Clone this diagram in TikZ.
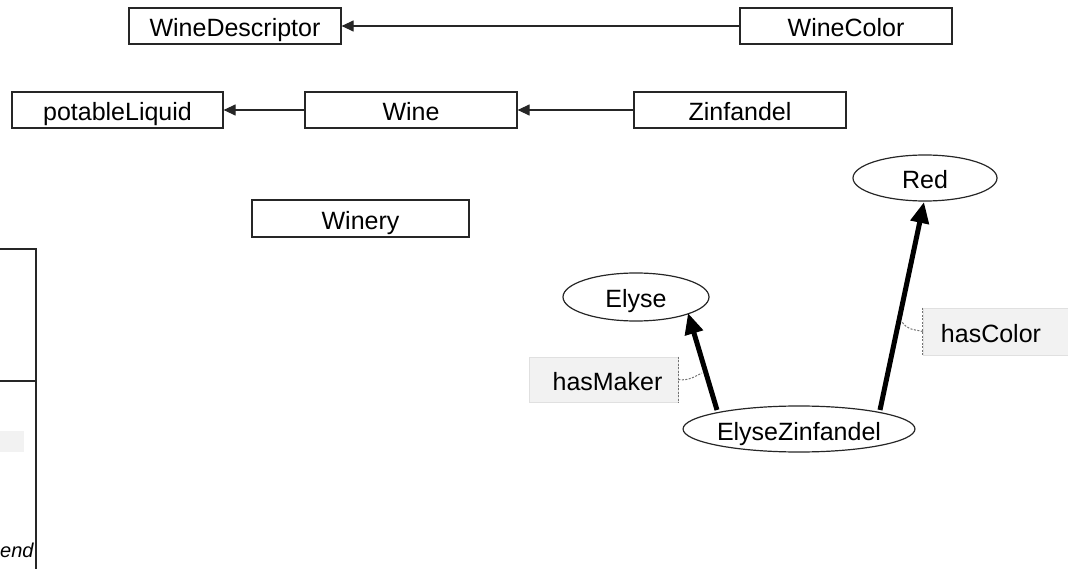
\documentclass[tikz,border=0pt]{standalone}
\usepackage{fontspec}
\setmainfont{Liberation Sans}
\usetikzlibrary{arrows.meta,calc,shapes.geometric}
\begin{document}
\begin{tikzpicture}[x=1pt,y=-1pt,
  every node/.style={font=\fontsize{25}{29}\selectfont, text=black, text height=22pt, text depth=0pt},
  classbox/.style={draw=black!85, line width=1.2pt, rectangle, minimum height=36pt, inner sep=0pt},
  indiv/.style={draw=black!85, line width=1.2pt, ellipse, inner sep=0pt},
  subarrow/.style={draw=black!85, line width=1.2pt, -{Triangle[length=12pt,width=11pt]}},
  proparrow/.style={draw=black, line width=5pt, -{Triangle[length=21pt,width=18pt]}},
  proplabel/.style={rectangle, fill=black!5, draw=black!12, line width=0.6pt, inner sep=0pt},
  leader/.style={draw=black!55, dashed, dash pattern=on 2pt off 1.5pt, line width=1pt}
]
\useasboundingbox (0,0) rectangle (1068,569);
\clip (0,0) rectangle (1068,569);

% class boxes
\node[classbox, minimum width=212pt] (wd) at (235,26) {WineDescriptor};
\node[classbox, minimum width=212pt] (wc) at (846,26) {WineColor};
\node[classbox, minimum width=211pt] (pl) at (117.5,110) {potableLiquid};
\node[classbox, minimum width=212pt] (wine) at (411,110) {Wine};
\node[classbox, minimum width=212pt] (zin) at (740,110) {Zinfandel};
\node[classbox, minimum width=217pt, minimum height=37pt] (winery) at (360.5,218.5) {Winery};

\draw[subarrow] (wc) -- (wd);
\draw[subarrow] (wine) -- (pl);
\draw[subarrow] (zin) -- (wine);

% individuals
\node[indiv, minimum width=144pt, minimum height=46pt] (red) at (925,178) {Red};
\node[indiv, minimum width=146pt, minimum height=48pt] (elyse) at (636,297) {Elyse};
\node[indiv, minimum width=230pt, minimum height=46pt] (ez) at (799,429) {ElyseZinfandel};

\coordinate (t1) at (717,410);
\coordinate (h1) at (688,313);
\coordinate (t2) at (880,410);
\coordinate (h2) at (924,202);
\draw[proparrow] (t1) -- (h1);
\draw[proparrow] (t2) -- (h2);

% property labels
\node[proplabel, minimum width=149pt, minimum height=45pt] (hm) at (603.5,379.5) {};
\node (hmtext) at (607.5,379.5) {hasMaker};
\draw[leader] (hm.north east) -- (hm.south east);
\coordinate (m1) at (702,373);
\draw[leader] (hm.east) .. controls (688,381) and (694,377) .. (m1);

\node[proplabel, minimum width=150pt, minimum height=47pt] (hc) at (998,331.5) {};
\node (hctext) at (991,331.5) {hasColor};
\draw[leader] (hc.north west) -- (hc.south west);
\coordinate (m2) at (902,322);
\draw[leader] (hc.west) .. controls (912,329) and (908,330) .. (m2);

% legend (cut off at left edge)
\draw[black!85, line width=1.2pt] (0,249) -- (36,249) -- (36,575);
\draw[black!85, line width=1.2pt] (0,381) -- (36,381);
\fill[black!5] (-2,431) rectangle (24,452);
\node[anchor=base east, font=\fontsize{20}{24}\selectfont\itshape, inner sep=0pt, text height=, text depth=] (leg) at (33.8,557) {end};
\end{tikzpicture}
\end{document}
